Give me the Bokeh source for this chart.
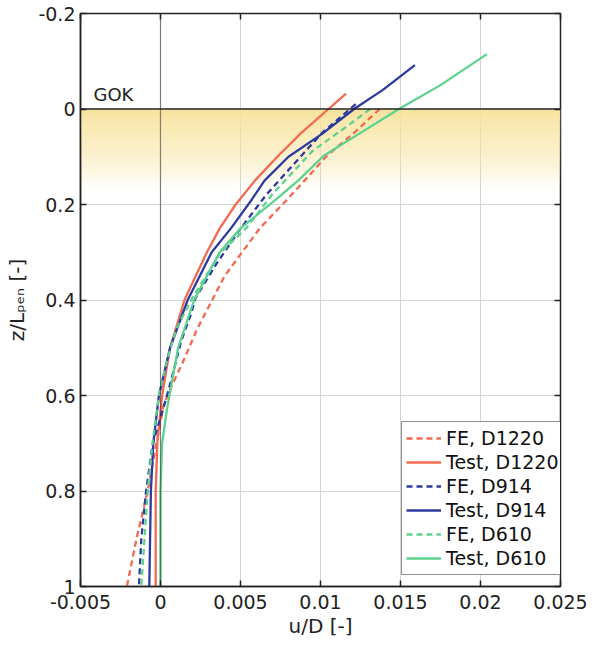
import numpy as np
from bokeh.plotting import figure
from bokeh.models import Range1d, FixedTicker, LinearAxis, Span, Label
from bokeh.embed import file_html
from bokeh.resources import INLINE

# ---------------- data ----------------
x_ticks = [-0.005, 0.0, 0.005, 0.01, 0.015, 0.02, 0.025]
x_tick_labels = ["-0.005", "0", "0.005", "0.01", "0.015", "0.02", "0.025"]
y_ticks = [-0.2, 0.0, 0.2, 0.4, 0.6, 0.8, 1.0]
y_tick_labels = ["-0.2", "0", "0.2", "0.4", "0.6", "0.8", "1"]

fe_d1220_z = [0.0, 0.05, 0.098, 0.15, 0.19, 0.25, 0.3, 0.35, 0.415, 0.46, 0.53, 0.58, 0.62, 0.7, 0.8, 0.9, 1.0]
fe_d1220_u = [0.0137, 0.0121, 0.0104, 0.0090, 0.0079, 0.0062, 0.0051, 0.0040, 0.0030, 0.0023, 0.0014, 0.0007, 0.0002, -0.00025, -0.0008, -0.0015, -0.0021]

test_d1220_z = [-0.032, 0.0, 0.05, 0.1, 0.15, 0.2, 0.25, 0.3, 0.4, 0.5, 0.6, 0.7, 0.8, 0.9, 1.0]
test_d1220_u = [0.0116, 0.0105, 0.0088, 0.0073, 0.0059, 0.0047, 0.0037, 0.0029, 0.0015, 0.0006, 0.0001, -0.0002, -0.0003, -0.0003, -0.0003]

fe_d914_z = [-0.01, 0.05, 0.113, 0.18, 0.255, 0.324, 0.395, 0.43, 0.485, 0.568, 0.63, 0.7, 0.8, 0.9, 1.0]
fe_d914_u = [0.0122, 0.0101, 0.0084, 0.0066, 0.0049, 0.0035, 0.0022, 0.0019, 0.0013, 0.00067, 0.00015, -0.00048, -0.0009, -0.0012, -0.00135]

test_d914_z = [-0.092, -0.04, 0.0, 0.052, 0.1, 0.15, 0.19, 0.25, 0.3, 0.4, 0.5, 0.6, 0.7, 0.8, 0.9, 1.0]
test_d914_u = [0.0159, 0.0139, 0.0121, 0.0101, 0.0080, 0.0065, 0.0057, 0.0044, 0.0032, 0.0017, 0.0006, -0.0001, -0.00045, -0.0006, -0.00065, -0.0007]

fe_d610_z = [0.0, 0.04, 0.088, 0.178, 0.248, 0.303, 0.395, 0.46, 0.527, 0.6, 0.7, 0.8, 0.9, 1.0]
fe_d610_u = [0.0131, 0.0115, 0.0095, 0.0070, 0.0054, 0.0037, 0.0020, 0.0010, 0.0004, -0.0001, -0.0005, -0.0008, -0.0010, -0.0012]

test_d610_z = [-0.115, -0.05, 0.0, 0.05, 0.098, 0.15, 0.19, 0.25, 0.3, 0.4, 0.5, 0.63, 0.7, 0.8, 0.9, 1.0]
test_d610_u = [0.0204, 0.0175, 0.0149, 0.0125, 0.0102, 0.0086, 0.0072, 0.0050, 0.0037, 0.0021, 0.0011, 0.0004, 0.0001, 0.0, 0.0, 0.0]

series = [
    ("FE, D1220", fe_d1220_u, fe_d1220_z, "#F4694F", "6 4"),
    ("Test, D1220", test_d1220_u, test_d1220_z, "#F4694F", None),
    ("FE, D914", fe_d914_u, fe_d914_z, "#2D3A9F", "6 4"),
    ("Test, D914", test_d914_u, test_d914_z, "#2D3A9F", None),
    ("FE, D610", fe_d610_u, fe_d610_z, "#5ED18F", "6 4"),
    ("Test, D610", test_d610_u, test_d610_z, "#5ED18F", None),
]

ground_level = 0.0
band_depth = 0.17
gok_label_z = -0.03
FONT = "DejaVu Sans"

# ---------------- figure ----------------
p = figure(width=588, height=641,
           x_range=Range1d(x_ticks[0], x_ticks[-1]),
           y_range=Range1d(y_ticks[-1], y_ticks[0]),
           output_backend="svg", toolbar_location=None,
           min_border_left=80, min_border_right=28,
           min_border_top=13, min_border_bottom=55)

p.outline_line_color = "#222222"
p.outline_line_width = 1.5
p.background_fill_color = "white"
p.border_fill_color = "white"

# gradient band below ground level
n = 40
edges = np.linspace(ground_level, band_depth, n + 1)
tt = (edges[:-1] + edges[1:]) / 2 / band_depth
alphas = np.clip(1 - tt ** 1.4, 0, 1) * 0.95
p.quad(left=x_ticks[0], right=x_ticks[-1], top=edges[:-1], bottom=edges[1:],
       fill_color="#F8E29C", fill_alpha=alphas, line_color=None)

# axes
for ax, ticks, labels in ((p.xaxis[0], x_ticks, x_tick_labels), (p.yaxis[0], y_ticks, y_tick_labels)):
    ax.ticker = FixedTicker(ticks=ticks)
    ax.major_label_overrides = dict(zip(ticks, labels))
    ax.major_tick_in = 6
    ax.major_tick_out = 0
    ax.minor_tick_line_color = None
    ax.axis_line_color = "#222222"
    ax.axis_line_width = 1.5
    ax.major_tick_line_color = "#222222"
    ax.major_tick_line_width = 1.5
    ax.major_label_text_font = FONT
    ax.major_label_text_font_size = "19px"
    ax.major_label_text_color = "#222222"
    ax.axis_label_text_font = FONT
    ax.axis_label_text_font_size = "20px"
    ax.axis_label_text_font_style = "normal"
    ax.axis_label_text_color = "#222222"
p.xaxis.major_label_standoff = 8
p.yaxis.major_label_standoff = 5
p.xaxis.axis_label = "u/D [-]"
p.xaxis.axis_label_standoff = 2
p.yaxis.axis_label = "z/L\u209a\u2091\u2099 [-]"
p.yaxis.axis_label_standoff = 6

top_ax = LinearAxis(ticker=FixedTicker(ticks=x_ticks))
right_ax = LinearAxis(ticker=FixedTicker(ticks=y_ticks))
for ax in (top_ax, right_ax):
    ax.major_tick_in = 6
    ax.major_tick_out = 0
    ax.minor_tick_line_color = None
    ax.axis_line_color = None
    ax.major_tick_line_color = "#222222"
    ax.major_tick_line_width = 1.5
    ax.major_label_text_color = None
    ax.major_label_text_font_size = "0px"
    ax.major_label_standoff = 0
p.add_layout(top_ax, "above")
p.add_layout(right_ax, "right")

p.xgrid.ticker = FixedTicker(ticks=x_ticks)
p.ygrid.ticker = FixedTicker(ticks=y_ticks)
p.grid.grid_line_color = "#d4d4d4"
p.grid.grid_line_width = 1

# ground line and zero line
p.add_layout(Span(location=ground_level, dimension="width", line_color="#222222", line_width=1.5))
p.add_layout(Span(location=0.0, dimension="height", line_color="#222222", line_width=1.2, line_dash="1 1"))

# curves
for name, u, z, col, dash in series:
    kw = dict(line_dash=dash) if dash else {}
    p.line(u, z, line_color=col, line_width=2.3, legend_label=name, **kw)

# legend
lg = p.legend[0]
lg.location = (321, 11)
lg.border_line_color = "#222222"
lg.border_line_width = 1.5
lg.background_fill_color = "white"
lg.background_fill_alpha = 1
lg.label_text_font = FONT
lg.label_text_font_size = "19px"
lg.label_text_color = "#111111"
lg.glyph_width = 35
lg.glyph_height = 24
lg.label_height = 24
lg.spacing = 0
lg.padding = 4
lg.margin = 0
lg.label_standoff = 5

# GOK label
p.add_layout(Label(x=x_ticks[0], y=gok_label_z, x_offset=13, text="GOK",
                   text_font=FONT, text_font_size="18px", text_color="#222222",
                   text_baseline="alphabetic"))

open("out.html", "w").write(file_html(p, INLINE))
